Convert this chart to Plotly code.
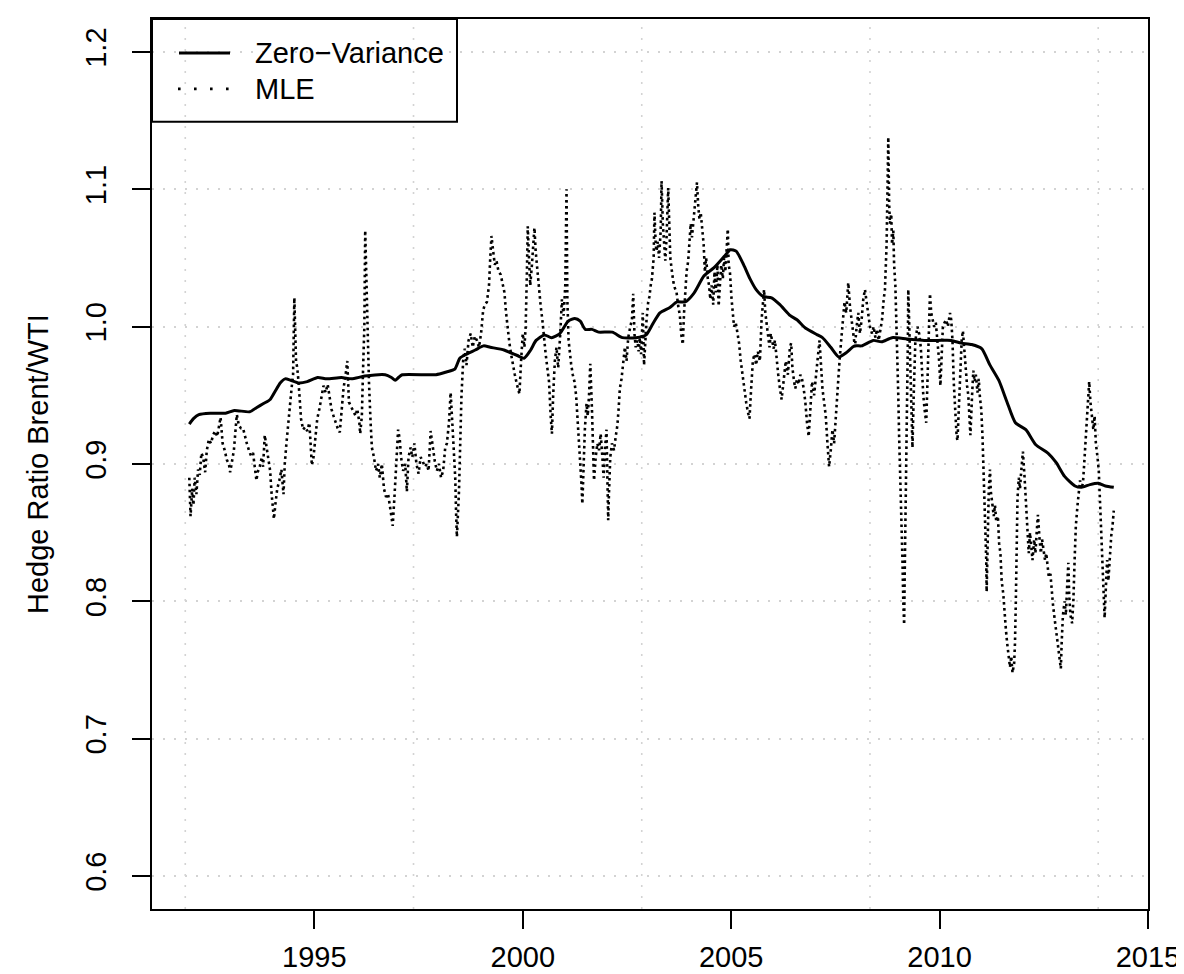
import plotly.graph_objects as go

# ---------------- data ----------------
series_names = ["Zero\u2212Variance", "MLE"]
y_title = "Hedge Ratio Brent/WTI"

zv_year = [1992.00, 1992.10, 1992.23, 1992.50, 1992.87, 1993.08, 1993.45, 1993.61, 1993.78, 1993.94,
           1994.06, 1994.18, 1994.30, 1994.43, 1994.63, 1994.83, 1995.08, 1995.30, 1995.65, 1995.89,
           1996.21, 1996.70, 1996.85, 1996.94, 1997.02, 1997.11, 1997.92, 1998.17, 1998.37, 1998.49,
           1998.65, 1998.86, 1999.06, 1999.22, 1999.55, 1999.71, 1999.87, 2000.03, 2000.19, 2000.32,
           2000.52, 2000.69, 2000.89, 2001.09, 2001.25, 2001.38, 2001.50, 2001.66, 2001.82, 2002.15,
           2002.39, 2002.72, 2002.96, 2003.12, 2003.29, 2003.53, 2003.70, 2003.90, 2004.10, 2004.35,
           2004.59, 2004.83, 2004.98, 2005.12, 2005.30, 2005.45, 2005.60, 2005.77, 2005.97, 2006.17,
           2006.42, 2006.58, 2006.78, 2007.07, 2007.19, 2007.39, 2007.58, 2007.76, 2007.96, 2008.13,
           2008.41, 2008.61, 2008.86, 2009.22, 2009.63, 2009.96, 2010.28, 2010.52, 2010.77, 2011.01,
           2011.21, 2011.42, 2011.62, 2011.82, 2012.07, 2012.31, 2012.60, 2012.80, 2013.00, 2013.25,
           2013.41, 2013.61, 2013.81, 2013.98, 2014.18]
zv_value = [0.929, 0.933, 0.936, 0.937, 0.937, 0.939, 0.938, 0.941, 0.944, 0.947,
            0.953, 0.959, 0.962, 0.961, 0.959, 0.960, 0.963, 0.962, 0.963, 0.962,
            0.964, 0.965, 0.963, 0.961, 0.963, 0.965, 0.965, 0.967, 0.969, 0.977,
            0.980, 0.983, 0.986, 0.985, 0.983, 0.981, 0.979, 0.977, 0.983, 0.990,
            0.994, 0.992, 0.995, 1.004, 1.006, 1.004, 0.998, 0.998, 0.996, 0.996,
            0.992, 0.992, 0.994, 1.002, 1.010, 1.014, 1.018, 1.018, 1.024, 1.037,
            1.043, 1.051, 1.056, 1.055, 1.045, 1.035, 1.027, 1.022, 1.021, 1.016,
            1.008, 1.005, 0.999, 0.994, 0.992, 0.985, 0.978, 0.981, 0.986, 0.986,
            0.990, 0.989, 0.992, 0.991, 0.990, 0.990, 0.990, 0.988, 0.987, 0.984,
            0.972, 0.961, 0.945, 0.930, 0.925, 0.914, 0.908, 0.901, 0.891, 0.884,
            0.883, 0.885, 0.886, 0.884, 0.883]

mle_year = [
    # 1992 - 1996
    1992.00, 1992.03, 1992.07, 1992.10, 1992.13, 1992.17, 1992.21, 1992.25, 1992.29, 1992.33,
    1992.38, 1992.42, 1992.47, 1992.52, 1992.57, 1992.62, 1992.67, 1992.72, 1992.75, 1992.80,
    1992.85, 1992.90, 1992.95, 1992.98, 1993.03, 1993.07, 1993.11, 1993.14, 1993.19, 1993.24,
    1993.29, 1993.33, 1993.38, 1993.43, 1993.48, 1993.53, 1993.58, 1993.61, 1993.64, 1993.69,
    1993.74, 1993.77, 1993.81, 1993.85, 1993.89, 1993.94, 1993.97, 1994.00, 1994.03, 1994.07,
    1994.11, 1994.16, 1994.21, 1994.26, 1994.29, 1994.33, 1994.36, 1994.41, 1994.46, 1994.49,
    1994.52, 1994.56, 1994.59, 1994.62, 1994.65, 1994.68, 1994.73, 1994.78, 1994.83, 1994.88,
    1994.91, 1994.94, 1994.98, 1995.03, 1995.07, 1995.12, 1995.17, 1995.22, 1995.27, 1995.32,
    1995.36, 1995.41, 1995.46, 1995.51, 1995.56, 1995.61, 1995.66, 1995.70, 1995.75, 1995.79,
    1995.83, 1995.88, 1995.94, 1995.99, 1996.03, 1996.08,
    # 1996 - 2001
    1996.10, 1996.14, 1996.17, 1996.20, 1996.22, 1996.24, 1996.27, 1996.29, 1996.31, 1996.35,
    1996.38, 1996.43, 1996.48, 1996.53, 1996.57, 1996.62, 1996.67, 1996.72, 1996.77, 1996.82,
    1996.85, 1996.88, 1996.92, 1996.95, 1996.99, 1997.01, 1997.05, 1997.08, 1997.13, 1997.18,
    1997.22, 1997.26, 1997.31, 1997.35, 1997.40, 1997.45, 1997.50, 1997.55, 1997.60, 1997.65,
    1997.70, 1997.74, 1997.79, 1997.84, 1997.89, 1997.94, 1997.99, 1998.04, 1998.09, 1998.14,
    1998.18, 1998.23, 1998.27, 1998.31, 1998.35, 1998.38, 1998.40, 1998.42, 1998.44, 1998.47,
    1998.50, 1998.53, 1998.57, 1998.61, 1998.65, 1998.70, 1998.75, 1998.80, 1998.85, 1998.90,
    1998.95, 1999.00, 1999.05, 1999.09, 1999.14, 1999.19, 1999.22, 1999.25, 1999.29, 1999.33,
    1999.37, 1999.42, 1999.47, 1999.52, 1999.56, 1999.60, 1999.64, 1999.68, 1999.72, 1999.76,
    1999.81, 1999.86, 1999.92, 1999.96, 2000.00, 2000.04, 2000.07, 2000.10, 2000.12, 2000.15,
    2000.18, 2000.22, 2000.25, 2000.28, 2000.31, 2000.35, 2000.39, 2000.43, 2000.47, 2000.51,
    2000.55, 2000.59, 2000.63, 2000.67, 2000.70, 2000.73, 2000.77, 2000.81, 2000.85, 2000.90,
    # 2001 - 2005
    2000.94, 2000.98, 2001.02, 2001.05, 2001.07, 2001.10, 2001.13, 2001.16, 2001.20, 2001.24,
    2001.28, 2001.32, 2001.36, 2001.39, 2001.41, 2001.43, 2001.46, 2001.49, 2001.53, 2001.56,
    2001.59, 2001.62, 2001.66, 2001.69, 2001.71, 2001.75, 2001.79, 2001.83, 2001.87, 2001.91,
    2001.94, 2001.97, 2002.01, 2002.03, 2002.05, 2002.07, 2002.10, 2002.14, 2002.19, 2002.23,
    2002.27, 2002.30, 2002.33, 2002.37, 2002.41, 2002.45, 2002.49, 2002.53, 2002.58, 2002.62,
    2002.65, 2002.68, 2002.71, 2002.75, 2002.78, 2002.81, 2002.84, 2002.88, 2002.91, 2002.94,
    2002.97, 2003.01, 2003.04, 2003.07, 2003.10, 2003.14, 2003.16, 2003.19, 2003.21, 2003.24,
    2003.27, 2003.31, 2003.33, 2003.36, 2003.39, 2003.42, 2003.45, 2003.49, 2003.51, 2003.54,
    2003.58, 2003.61, 2003.65, 2003.69, 2003.73, 2003.77, 2003.80, 2003.84, 2003.87, 2003.90,
    2003.93, 2003.97, 2004.00, 2004.03, 2004.06, 2004.10, 2004.13, 2004.15, 2004.18, 2004.21,
    2004.24, 2004.27, 2004.31, 2004.34, 2004.37, 2004.40, 2004.44, 2004.47, 2004.50, 2004.53,
    2004.57, 2004.60, 2004.63, 2004.67, 2004.70, 2004.73, 2004.76, 2004.80, 2004.83, 2004.86,
    2004.89, 2004.92, 2004.94, 2004.97, 2005.01, 2005.04, 2005.07, 2005.11, 2005.15, 2005.19,
    2005.23, 2005.27, 2005.32, 2005.36, 2005.40, 2005.44, 2005.48, 2005.52, 2005.56, 2005.60,
    2005.64, 2005.69,
    # 2005 - 2010
    2005.73, 2005.76, 2005.79, 2005.82, 2005.86, 2005.89, 2005.92, 2005.95, 2005.99, 2006.02,
    2006.05, 2006.09, 2006.13, 2006.17, 2006.21, 2006.25, 2006.28, 2006.31, 2006.36, 2006.41,
    2006.44, 2006.47, 2006.51, 2006.54, 2006.58, 2006.62, 2006.66, 2006.70, 2006.74, 2006.78,
    2006.82, 2006.86, 2006.90, 2006.94, 2006.99, 2007.03, 2007.07, 2007.12, 2007.16, 2007.19,
    2007.23, 2007.27, 2007.31, 2007.35, 2007.39, 2007.43, 2007.47, 2007.51, 2007.55, 2007.60,
    2007.64, 2007.68, 2007.72, 2007.76, 2007.79, 2007.81, 2007.85, 2007.89, 2007.93, 2007.97,
    2008.01, 2008.05, 2008.09, 2008.13, 2008.17, 2008.21, 2008.25, 2008.29, 2008.33, 2008.38,
    2008.42, 2008.46, 2008.50, 2008.54, 2008.58, 2008.62, 2008.66, 2008.69, 2008.73, 2008.75,
    2008.77, 2008.79, 2008.81, 2008.84, 2008.86, 2008.89, 2008.91, 2008.94, 2008.96, 2008.99,
    2009.01, 2009.03, 2009.06, 2009.08, 2009.11, 2009.13, 2009.15, 2009.16, 2009.18, 2009.20,
    2009.22, 2009.24, 2009.25, 2009.28, 2009.30, 2009.33, 2009.35, 2009.38, 2009.42, 2009.47,
    2009.51, 2009.55, 2009.58, 2009.61, 2009.64, 2009.68, 2009.71, 2009.74, 2009.77, 2009.80,
    2009.83, 2009.87, 2009.91, 2009.95, 2009.99, 2010.02, 2010.05, 2010.08, 2010.12, 2010.16,
    2010.20, 2010.25, 2010.28, 2010.31, 2010.34, 2010.38, 2010.41, 2010.43, 2010.47, 2010.50,
    # 2010 - 2014
    2010.53, 2010.56, 2010.59, 2010.62, 2010.66, 2010.69, 2010.72, 2010.74, 2010.78, 2010.81,
    2010.84, 2010.87, 2010.91, 2010.94, 2010.97, 2011.00, 2011.03, 2011.05, 2011.08, 2011.10,
    2011.12, 2011.13, 2011.16, 2011.18, 2011.21, 2011.23, 2011.27, 2011.30, 2011.33, 2011.36,
    2011.40, 2011.43, 2011.46, 2011.49, 2011.53, 2011.56, 2011.59, 2011.62, 2011.66, 2011.69,
    2011.72, 2011.75, 2011.79, 2011.81, 2011.83, 2011.85, 2011.87, 2011.90, 2011.93, 2011.96,
    2012.00, 2012.04, 2012.07, 2012.10, 2012.14, 2012.17, 2012.20, 2012.23, 2012.27, 2012.30,
    2012.33, 2012.36, 2012.40, 2012.43, 2012.46, 2012.49, 2012.53, 2012.56, 2012.59, 2012.62,
    2012.66, 2012.69, 2012.72, 2012.75, 2012.79, 2012.82, 2012.85, 2012.88, 2012.91, 2012.93,
    2012.96, 2013.00, 2013.03, 2013.06, 2013.09, 2013.11, 2013.14, 2013.18, 2013.21, 2013.24,
    2013.27, 2013.31, 2013.34, 2013.37, 2013.40, 2013.44, 2013.47, 2013.50, 2013.53, 2013.57,
    2013.59, 2013.62, 2013.66, 2013.69, 2013.72, 2013.75, 2013.79, 2013.82, 2013.84, 2013.87,
    2013.89, 2013.92, 2013.96, 2013.99, 2014.02, 2014.05, 2014.09, 2014.12, 2014.15, 2014.18,
]
mle_value = [
    # 1992 - 1996
    0.890, 0.862, 0.882, 0.870, 0.890, 0.878, 0.896, 0.892, 0.908, 0.905,
    0.894, 0.910, 0.918, 0.915, 0.921, 0.924, 0.920, 0.930, 0.934, 0.915,
    0.910, 0.903, 0.900, 0.894, 0.905, 0.910, 0.925, 0.936, 0.928, 0.926,
    0.926, 0.920, 0.915, 0.910, 0.906, 0.908, 0.897, 0.888, 0.894, 0.898,
    0.905, 0.898, 0.921, 0.912, 0.905, 0.895, 0.880, 0.868, 0.860, 0.872,
    0.882, 0.888, 0.896, 0.878, 0.900, 0.915, 0.925, 0.945, 0.957, 0.965,
    1.021, 0.975, 0.970, 0.960, 0.945, 0.933, 0.925, 0.927, 0.924, 0.930,
    0.915, 0.899, 0.905, 0.920, 0.933, 0.940, 0.948, 0.957, 0.952, 0.958,
    0.950, 0.940, 0.935, 0.930, 0.926, 0.923, 0.945, 0.955, 0.965, 0.975,
    0.945, 0.942, 0.938, 0.935, 0.940, 0.930,
    # 1996 - 2001
    0.922, 0.935, 0.970, 1.000, 1.070, 1.040, 1.000, 0.985, 0.960, 0.930,
    0.912, 0.905, 0.895, 0.900, 0.890, 0.900, 0.882, 0.876, 0.878, 0.868,
    0.862, 0.855, 0.875, 0.890, 0.912, 0.925, 0.918, 0.905, 0.895, 0.900,
    0.880, 0.905, 0.912, 0.905, 0.915, 0.900, 0.893, 0.905, 0.902, 0.898,
    0.900, 0.895, 0.924, 0.912, 0.902, 0.895, 0.900, 0.890, 0.895, 0.912,
    0.915, 0.930, 0.952, 0.930, 0.910, 0.890, 0.865, 0.847, 0.860, 0.880,
    0.915, 0.950, 0.975, 0.984, 0.972, 0.990, 0.995, 0.985, 0.993, 0.990,
    0.985, 0.995, 1.012, 1.016, 1.018, 1.030, 1.050, 1.066, 1.055, 1.045,
    1.048, 1.040, 1.038, 1.032, 1.025, 1.010, 0.998, 0.988, 0.980, 0.972,
    0.965, 0.958, 0.951, 0.975, 0.995, 0.985, 1.000, 1.040, 1.073, 1.050,
    1.030, 1.045, 1.060, 1.072, 1.055, 1.040, 1.030, 1.015, 1.005, 0.990,
    0.980, 0.970, 0.960, 0.935, 0.922, 0.950, 0.975, 0.985, 0.970, 0.995,
    # 2001 - 2005
    1.020, 1.008, 1.030, 1.100, 1.020, 0.990, 0.980, 0.973, 0.965, 0.960,
    0.950, 0.930, 0.915, 0.900, 0.885, 0.871, 0.900, 0.925, 0.944, 0.935,
    0.950, 0.973, 0.940, 0.900, 0.888, 0.905, 0.915, 0.910, 0.922, 0.905,
    0.890, 0.910, 0.925, 0.890, 0.859, 0.880, 0.905, 0.915, 0.910, 0.920,
    0.928, 0.940, 0.955, 0.962, 0.975, 0.985, 0.975, 0.992, 1.000, 1.005,
    1.024, 0.995, 0.985, 0.990, 0.982, 0.992, 0.980, 1.010, 0.972, 0.990,
    1.005, 1.018, 1.022, 1.030, 1.035, 1.050, 1.083, 1.060, 1.055, 1.062,
    1.050, 1.070, 1.106, 1.075, 1.060, 1.048, 1.065, 1.101, 1.080, 1.050,
    1.040, 1.033, 1.028, 1.025, 1.015, 1.008, 0.995, 0.987, 1.010, 1.030,
    1.040, 1.048, 1.060, 1.075, 1.065, 1.080, 1.090, 1.095, 1.105, 1.088,
    1.078, 1.083, 1.070, 1.060, 1.040, 1.050, 1.035, 1.030, 1.020, 1.030,
    1.016, 1.040, 1.025, 1.045, 1.015, 1.030, 1.045, 1.035, 1.050, 1.040,
    1.055, 1.071, 1.045, 1.040, 1.020, 1.010, 1.000, 1.003, 0.995, 0.988,
    0.975, 0.965, 0.955, 0.945, 0.938, 0.933, 0.955, 0.975, 0.980, 0.972,
    0.982, 0.975,
    # 2005 - 2010
    1.005, 1.015, 1.027, 1.010, 0.998, 0.990, 0.985, 0.995, 0.988, 0.984,
    0.990, 0.976, 0.965, 0.955, 0.947, 0.958, 0.968, 0.975, 0.965, 0.985,
    0.988, 0.970, 0.960, 0.955, 0.962, 0.958, 0.965, 0.962, 0.955, 0.945,
    0.930, 0.920, 0.940, 0.960, 0.950, 0.965, 0.975, 0.990, 0.965, 0.955,
    0.945, 0.935, 0.915, 0.898, 0.910, 0.925, 0.915, 0.935, 0.955, 0.975,
    0.990, 1.005, 1.018, 1.010, 1.020, 1.032, 1.015, 1.005, 0.995, 0.985,
    1.000, 1.010, 0.995, 1.005, 1.020, 1.027, 1.018, 1.010, 1.000, 0.995,
    1.000, 0.992, 0.998, 0.990, 0.998, 1.005, 1.020, 1.027, 1.060, 1.100,
    1.138, 1.090, 1.075, 1.082, 1.060, 1.070, 1.045, 1.030, 1.010, 0.985,
    0.950, 0.920, 0.890, 0.860, 0.830, 0.800, 0.783, 0.810, 0.850, 0.890,
    0.940, 0.990, 1.027, 0.990, 0.960, 0.935, 0.912, 0.950, 0.990, 1.000,
    0.995, 0.985, 0.965, 0.950, 0.940, 0.930, 0.960, 1.000, 1.024, 1.010,
    1.005, 1.000, 1.003, 0.990, 0.975, 0.957, 0.985, 1.000, 1.003, 1.005,
    1.000, 1.010, 1.005, 0.990, 0.960, 0.935, 0.920, 0.917, 0.950, 0.975,
    # 2010 - 2014
    0.990, 0.997, 0.985, 0.968, 0.957, 0.950, 0.935, 0.921, 0.950, 0.968,
    0.960, 0.965, 0.952, 0.962, 0.948, 0.940, 0.920, 0.900, 0.880, 0.860,
    0.830, 0.807, 0.850, 0.880, 0.896, 0.880, 0.870, 0.862, 0.870, 0.858,
    0.862, 0.842, 0.835, 0.815, 0.805, 0.790, 0.780, 0.770, 0.758, 0.752,
    0.760, 0.748, 0.755, 0.770, 0.800, 0.840, 0.875, 0.890, 0.882, 0.895,
    0.909, 0.890, 0.870, 0.850, 0.835, 0.850, 0.840, 0.830, 0.845, 0.835,
    0.850, 0.863, 0.845, 0.835, 0.845, 0.838, 0.830, 0.835, 0.825, 0.818,
    0.820, 0.805, 0.798, 0.790, 0.780, 0.775, 0.768, 0.760, 0.751, 0.770,
    0.790, 0.800, 0.790, 0.810, 0.828, 0.805, 0.790, 0.784, 0.800, 0.830,
    0.855, 0.870, 0.882, 0.888, 0.882, 0.886, 0.900, 0.915, 0.930, 0.945,
    0.960, 0.945, 0.935, 0.925, 0.935, 0.915, 0.905, 0.895, 0.880, 0.860,
    0.840, 0.820, 0.788, 0.810, 0.830, 0.815, 0.835, 0.848, 0.855, 0.866,
]

x_tick_years = [1995, 2000, 2005, 2010, 2015]
x_tick_labels = ["1995", "2000", "2005", "2010", "2015"]
y_ticks = [0.6, 0.7, 0.8, 0.9, 1.0, 1.1, 1.2]
y_tick_labels = ["0.6", "0.7", "0.8", "0.9", "1.0", "1.1", "1.2"]
grid_days = [8000, 10000, 12000, 14000, 16000]  # grid() positions on the Date axis (days since 1970-01-01)

# ---------------- layout constants ----------------
W, H = 1184, 974
ML, MR, MT, MB = 144, 44, 9, 73
PW, PH = W - ML - MR, H - MT - MB
FONT = "Liberation Sans, Arial, Helvetica, sans-serif"
FS = 29
GRID = "#D3D3D3"


def px_x(px):
    return (px - ML) / PW


def px_y(py):
    return (H - MB - py) / PH


fig = go.Figure()
fig.add_trace(go.Scatter(x=mle_year, y=mle_value, mode="lines", name=series_names[1],
                         line=dict(color="black", width=2.6, dash="2.6px,3.4px"),
                         showlegend=False))
fig.add_trace(go.Scatter(x=zv_year, y=zv_value, mode="lines", name=series_names[0],
                         line=dict(color="black", width=3, shape="spline", smoothing=0.6),
                         showlegend=False))

shapes = []
for d in grid_days:
    gx = 1970 + d / 365.2425
    shapes.append(dict(type="line", xref="x", yref="paper", x0=gx, x1=gx, y0=0, y1=1,
                       line=dict(color=GRID, width=1.6, dash="2px,9px"), layer="below"))

# legend box (drawn like R's legend)
shapes.append(dict(type="rect", xref="paper", yref="paper", x0=px_x(144), x1=px_x(449),
                   y0=px_y(112), y1=px_y(9), line=dict(color="black", width=2), layer="above"))
shapes.append(dict(type="line", xref="paper", yref="paper", x0=px_x(171), x1=px_x(222),
                   y0=px_y(43), y1=px_y(43), line=dict(color="black", width=3), layer="above"))
shapes.append(dict(type="line", xref="paper", yref="paper", x0=px_x(170), x1=px_x(224),
                   y0=px_y(79), y1=px_y(79), line=dict(color="black", width=2.6, dash="2.6px,13.4px"),
                   layer="above"))

annotations = [
    dict(text=series_names[0], xref="paper", yref="paper", x=px_x(245), y=px_y(43),
         xanchor="left", yanchor="middle", showarrow=False, font=dict(family=FONT, size=FS, color="black")),
    dict(text=series_names[1], xref="paper", yref="paper", x=px_x(245), y=px_y(79),
         xanchor="left", yanchor="middle", showarrow=False, font=dict(family=FONT, size=FS, color="black")),
    dict(text=y_title, xref="paper", yref="paper", x=px_x(30), y=0.5, textangle=-90,
         xanchor="center", yanchor="middle", showarrow=False, font=dict(family=FONT, size=FS, color="black")),
]

fig.update_layout(
    width=W, height=H,
    margin=dict(l=ML, r=MR, t=MT, b=MB, pad=0),
    paper_bgcolor="white", plot_bgcolor="white",
    font=dict(family=FONT, size=FS, color="black"),
    shapes=shapes, annotations=annotations, showlegend=False,
    xaxis=dict(range=[1991.105, 2015.001], tickmode="array", tickvals=x_tick_years, ticktext=x_tick_labels,
               showgrid=False, zeroline=False, showline=True, mirror=True, linecolor="black", linewidth=2,
               ticks="outside", ticklen=18, tickwidth=2, tickcolor="black", ticklabelstandoff=3,
               tickfont=dict(family=FONT, size=FS, color="black")),
    yaxis=dict(range=[0.576, 1.224], tickmode="array", tickvals=y_ticks, ticktext=y_tick_labels,
               showgrid=True, gridcolor=GRID, gridwidth=1.6, griddash="2px,9px", zeroline=False,
               showline=True, mirror=True, linecolor="black", linewidth=2,
               ticks="outside", ticklen=18, tickwidth=2, tickcolor="black", tickangle=-90,
               ticklabelstandoff=14, tickfont=dict(family=FONT, size=FS, color="black")),
)

fig.write_html("out.html")
